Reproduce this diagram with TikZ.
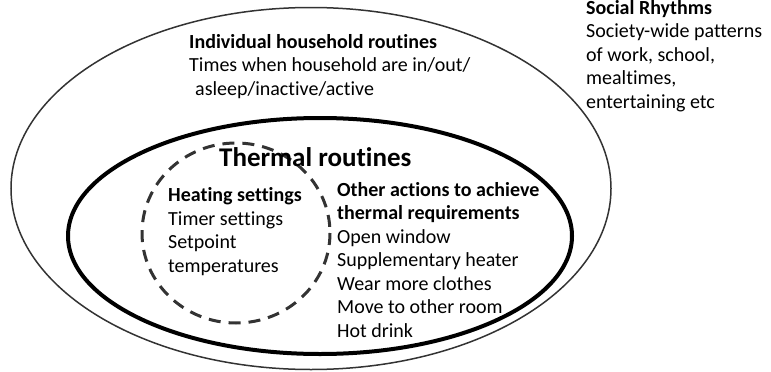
\documentclass[tikz,border=0pt]{standalone}
\usepackage{fontspec}
\setmainfont{Carlito}[Ligatures=NoCommon]
\usetikzlibrary{positioning}

\tikzset{
  txt/.style={anchor=base west,inner sep=0pt,align=left,font=\fontsize{20}{23.5}\selectfont},
  ring/.style={draw=black!80,line width=1.5pt},
  thermring/.style={draw=black,line width=4pt},
  heatring/.style={draw=black!80,line width=3pt,dash pattern=on 12pt off 8pt}
}

\begin{document}
\begin{tikzpicture}[x=1pt,y=-1pt]
\useasboundingbox (0,0) rectangle (771,372);
% the three rings, widest first
\draw[ring] (311,188.5) ellipse (300 and 181);
\draw[thermring] (320,236) ellipse (252 and 118);
\draw[heatring] (236,233) ellipse (94 and 90);

% outside the rings (base = last line)
\node[txt] (social) at (586,108) {\textbf{Social Rhythms}\\Society-wide patterns\\of work, school,\\mealtimes,\\entertaining etc};

% household ring
\node[txt] (household) at (189,95) {\textbf{Individual household routines}\\Times when household are in/out/\\\hspace*{6pt}asleep/inactive/active};

% thermal ring
\node[txt,font=\fontsize{27}{30}\selectfont\bfseries] (thermal) at (219,166) {Thermal routines};
\node[txt] (heating) at (168,272) {\textbf{Heating settings}\\Timer settings\\Setpoint\\temperatures};
\node[txt] (actions) at (337,337) {\textbf{Other actions to achieve}\\\textbf{thermal requirements}\\Open window\\Supplementary heater\\Wear more clothes\\Move to other room\\Hot drink};
\end{tikzpicture}
\end{document}
